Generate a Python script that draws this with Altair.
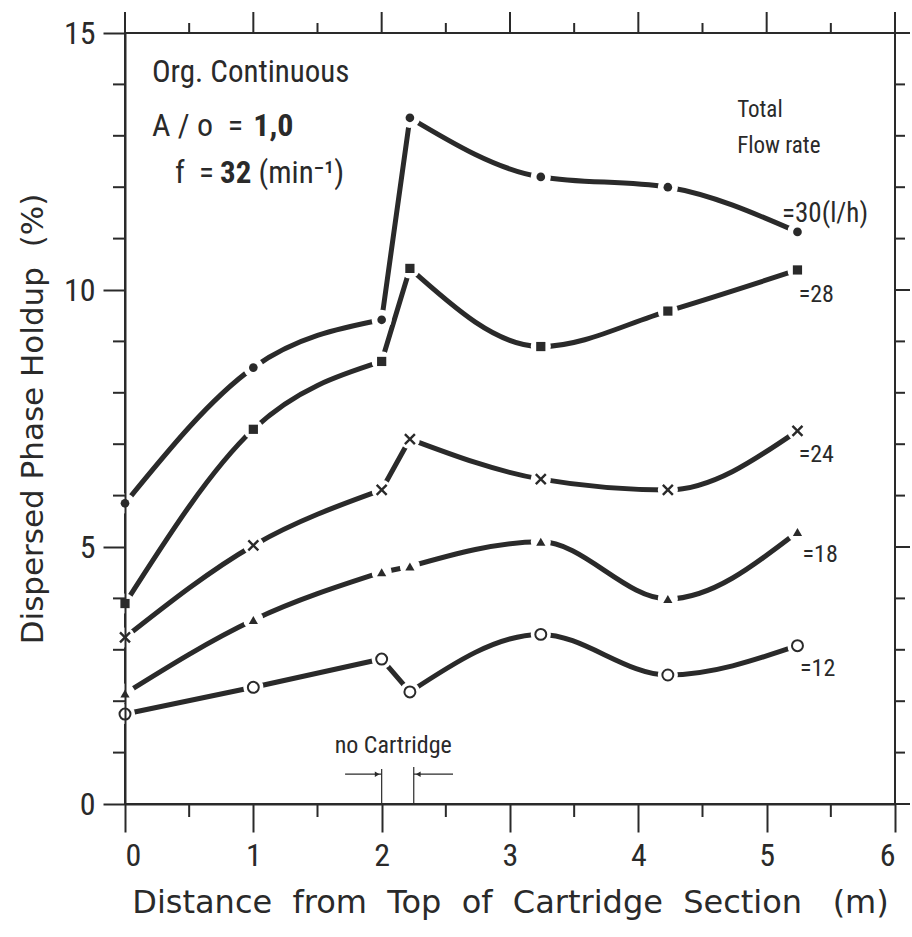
import altair as alt
import pandas as pd

# ---------------- data ----------------
xs = [0, 1, 2, 2.22, 3.24, 4.23, 5.24]
y30 = [5.85, 8.49, 9.42, 13.35, 12.2, 12.0, 11.13]
y28 = [3.90, 7.29, 8.61, 10.42, 8.9, 9.59, 10.39]
y24 = [3.24, 5.03, 6.11, 7.10, 6.32, 6.11, 7.26]
y18 = [2.15, 3.58, 4.51, 4.62, 5.10, 3.99, 5.29]
y12 = [1.75, 2.27, 2.82, 2.18, 3.30, 2.51, 3.08]

series_names = ["30", "28", "24", "18", "12"]
series_vals = [y30, y28, y24, y18, y12]
series_labels = ["=30(l/h)", "=28", "=24", "=18", "=12"]

x_ticks = [0, 1, 2, 3, 4, 5, 6]
y_ticks = [0, 5, 10, 15]

FONT = "Liberation Sans Narrow, Roboto Condensed, DejaVu Sans Condensed, Roboto, sans-serif"
TFONT = "DejaVu Sans"
INK = "#2a2a2a"
W, H = 770, 771
NB = "\u00a0"

# curve pieces: smooth before the gap, straight across the gap, smooth after it
pieces = [(0, 3), (2, 4), (3, 7)]

pts, segs = [], []
for name, vals in zip(series_names, series_vals):
    for xv, yv in zip(xs, vals):
        pts.append({"x": xv, "y": yv, "series": name})
    for k, (a, b) in enumerate(pieces):
        for xv, yv in zip(xs[a:b], vals[a:b]):
            segs.append({"x": xv, "y": yv, "seg": f"{name}-{k}"})
df = pd.DataFrame(pts)
dseg = pd.DataFrame(segs)

xscale = alt.Scale(domain=[0, 6], nice=False, zero=False)
yscale = alt.Scale(domain=[0, 15], nice=False, zero=False)

xtitle = (" " + NB).join(["Distance", "from", "Top", "of", "Cartridge", "Section"]) + " " + NB + NB + "(m)"
ytitle = "Dispersed Phase Holdup " + NB + "(%)"

X = alt.X("x:Q", scale=xscale, axis=alt.Axis(
    values=x_ticks, format="d", tickSize=28, tickWidth=2, tickColor=INK, domainColor=INK,
    domainWidth=2, labelFont=FONT, labelFontSize=32, labelColor=INK, labelPadding=8, grid=False,
    title=xtitle, titleFont=TFONT,
    titleFontSize=32, titleFontWeight="normal", titleColor=INK, titlePadding=16, zindex=1))
Y = alt.Y("y:Q", scale=yscale, axis=alt.Axis(
    values=y_ticks, format="d", tickSize=22, tickWidth=2, tickColor=INK, domainColor=INK,
    domainWidth=2, labelFont=FONT, labelFontSize=32, labelColor=INK, labelPadding=8, grid=False,
    title=ytitle, titleFont=TFONT, titleFontSize=31,
    titleFontWeight="normal", titleColor=INK, titlePadding=14, zindex=1))

lines = alt.Chart(dseg).mark_line(interpolate="monotone", strokeWidth=5, strokeCap="round",
                                  color=INK).encode(x=X, y=Y, detail="seg:N", order="x:Q")
# white halo around each measured point, leaving the gap seen in the original drawing
halo = alt.Chart(df).mark_point(shape="circle", filled=True, fill="white", stroke="white",
                                strokeWidth=6, size=200, opacity=1).encode(x="x:Q", y="y:Q")

marker_style = {
    "30": dict(shape="circle", filled=True, size=75),
    "28": dict(shape="square", filled=True, size=85),
    "24": dict(shape="M-1,-1L1,1M-1,1L1,-1", filled=False, size=100, strokeWidth=2.4),
    "18": dict(shape="triangle-up", filled=True, size=85),
    "12": dict(shape="circle", filled=False, size=120, strokeWidth=2),
}
markers = []
for name in series_names:
    st = marker_style[name]
    markers.append(
        alt.Chart(df[df.series == name]).mark_point(color=INK, opacity=1, **st)
        .encode(x="x:Q", y="y:Q"))

# ---------- extra ticks (frame) ----------
half = [0.5, 1.5, 2.5, 3.5, 4.5, 5.5]
ints_minor = [v for v in range(1, 15) if v % 5 != 0]
ints_major = [0, 5, 10, 15]


def xrule(vals, y1, y2):
    return alt.Chart(pd.DataFrame({"x": vals})).mark_rule(color=INK, strokeWidth=2).encode(
        x="x:Q", y=alt.value(y1), y2=alt.value(y2))


def yrule(vals, x1, x2):
    return alt.Chart(pd.DataFrame({"y": vals})).mark_rule(color=INK, strokeWidth=2).encode(
        y="y:Q", x=alt.value(x1), x2=alt.value(x2))


ticks = [
    xrule(half, H, H + 13),             # bottom minor
    xrule(x_ticks, -21, 0),             # top major
    xrule(half, -10, 0),                # top minor
    yrule(ints_minor, -12, 0),          # left minor
    yrule(ints_minor, W, W + 10),       # right minor
    yrule(ints_major, W, W + 15),       # right major
]

# ---------- annotations ----------
ann = pd.DataFrame({
    "x": [0.21, 0.21, 1.0, 0.39, 0.74, 1.04, 4.77, 4.77],
    "y": [14.04, 13.0, 13.0, 12.08, 12.08, 12.08, 13.37, 12.67],
    "t": ["Org. Continuous", "A / o " + NB + "=", "1,0", "f " + NB + "=", "32", "(min\u207b\u00b9)",
          "Total", "Flow rate"],
    "s": [31, 32, 32, 31, 31, 31, 23, 23],
    "w": ["normal", "normal", "bold", "normal", "bold", "normal", "normal", "normal"],
})
ann_text = []
for wt in ["normal", "bold"]:
    ann_text.append(alt.Chart(ann[ann.w == wt]).mark_text(
        align="left", baseline="alphabetic", font=FONT, color=INK, fontWeight=wt).encode(
        x="x:Q", y="y:Q", text="t:N", size=alt.Size("s:Q", scale=None, legend=None)))

lab = pd.DataFrame({
    "x": [5.12, 5.25, 5.25, 5.28, 5.26],
    "y": [11.32, 9.77, 6.65, 4.71, 2.49],
    "t": series_labels,
    "s": [27, 24, 24, 24, 24],
})
lab_text = alt.Chart(lab).mark_text(align="left", baseline="alphabetic", font=FONT,
                                    color=INK).encode(
    x="x:Q", y="y:Q", text="t:N", size=alt.Size("s:Q", scale=None, legend=None))

# no-cartridge marker
nc_text = alt.Chart(pd.DataFrame({"x": [2.09], "y": [1.0], "t": ["no Cartridge"]})).mark_text(
    font=FONT, fontSize=24, color=INK, baseline="alphabetic").encode(x="x:Q", y="y:Q", text="t:N")
nc_v = alt.Chart(pd.DataFrame({"x": [2.0, 2.25], "y": [0, 0], "y2": [0.68, 0.72]})).mark_rule(
    color=INK, strokeWidth=1.2).encode(x="x:Q", y="y:Q", y2="y2:Q")
nc_h = alt.Chart(pd.DataFrame({"x": [1.715, 2.25], "x2": [2.0, 2.556], "y": [0.58, 0.58]})).mark_rule(
    color=INK, strokeWidth=1.2).encode(x="x:Q", x2="x2:Q", y="y:Q")
nc_arrow = alt.Chart(pd.DataFrame({"x": [1.965, 2.285], "y": [0.58, 0.58],
                                   "s": ["triangle-right", "triangle-left"]})).mark_point(
    filled=True, color=INK, size=30, opacity=1).encode(
    x="x:Q", y="y:Q", shape=alt.Shape("s:N", scale=None, legend=None))

chart = alt.layer(
    lines, halo, *markers, *ticks, *ann_text, lab_text, nc_text, nc_v, nc_h, nc_arrow
).properties(
    width=W, height=H,
    padding={"left": 125, "top": 33, "right": 17, "bottom": 133},
    autosize=alt.AutoSizeParams(type="none"),
    background="white",
).configure_view(stroke=INK, strokeWidth=2)

chart.save("out.html", embed_options={"renderer": "svg", "actions": False})
